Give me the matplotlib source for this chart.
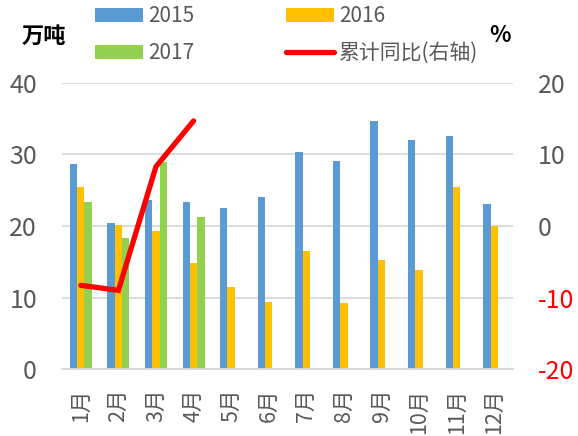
import matplotlib
matplotlib.use("Agg")
import matplotlib.pyplot as plt
import numpy as np

plt.rcParams['font.family'] = ['Noto Sans CJK SC', 'DejaVu Sans']
plt.rcParams['axes.unicode_minus'] = False

months = ["1月", "2月", "3月", "4月", "5月", "6月",
          "7月", "8月", "9月", "10月", "11月", "12月"]
y2015 = [28.7, 20.4, 23.7, 23.4, 22.5, 24.0, 30.3, 29.1, 34.7, 32.0, 32.6, 23.1]
y2016 = [25.4, 20.2, 19.3, 14.8, 11.4, 9.4, 16.5, 9.3, 15.3, 13.8, 25.5, 20.0]
y2017 = [23.4, 18.3, 28.9, 21.2]
yoy = [-8.3, -9.0, 8.3, 14.7]  # 累计同比, right axis

blue, orange, green, red = "#5B9BD5", "#FFC000", "#92D050", "#FF0000"
gray = "#595959"
grid = "#D9D9D9"

fig = plt.figure(figsize=(5.78, 4.36), dpi=100)
ax = fig.add_axes([62/578, 1 - 369/436, (513 - 62)/578, (369 - 83)/436])
ax2 = ax.twinx()

x = np.arange(len(months))
w = 0.195
b1 = ax.bar(x - w, y2015, w, color=blue, label="2015", zorder=2)
b2 = ax.bar(x, y2016, w, color=orange, label="2016", zorder=2)
b3 = ax.bar(x[:len(y2017)] + w, y2017, w, color=green, label="2017", zorder=2)
ln, = ax2.plot(x[:len(yoy)], yoy, color=red, lw=3.8, solid_capstyle="round",
               solid_joinstyle="miter", label="累计同比(右轴)")

ax.set_xlim(-0.5, len(months) - 0.5)
ax.set_ylim(0, 40)
ax.set_yticks(range(0, 41, 10))
ax2.set_ylim(-20, 20)
ax2.set_yticks(range(-20, 21, 10))

ax.yaxis.grid(True, color=grid, lw=1.3, zorder=0)
ax.set_axisbelow(True)
for a in (ax, ax2):
    for s in a.spines.values():
        s.set_visible(False)
ax.spines["bottom"].set_visible(True)
ax.spines["bottom"].set_color(grid)
ax.spines["bottom"].set_linewidth(1.3)

ax.set_xticks(x)
ax.set_xticklabels(months, rotation=90, fontsize=15.5, color=gray)
ax.tick_params(axis="x", length=0, pad=14)
ax.tick_params(axis="y", length=0, pad=18, labelsize=18, labelcolor=gray)
ax2.tick_params(axis="y", length=0, pad=18, labelsize=18)
for t, v in zip(ax2.get_yticklabels(), range(-20, 21, 10)):
    t.set_color(red if v < 0 else gray)

fig.text(22/578, 1 - 36/436, "万吨", fontsize=16, fontweight="bold",
         color="black", va="center", ha="left")
fig.text(489/578, 1 - 36/436, "%", fontsize=16, fontweight="bold",
         color="black", va="center", ha="left")

leg = fig.legend([b1, b3, b2, ln], ["2015", "2017", "2016", "累计同比(右轴)"],
                 ncol=2, loc="upper left", bbox_to_anchor=(95/578, 1 - 5/436),
                 frameon=False, fontsize=15, handlelength=2.3, handleheight=0.65,
                 handletextpad=0.25, columnspacing=4.4, labelspacing=0.72,
                 borderpad=0, borderaxespad=0)
for t in leg.get_texts():
    t.set_color(gray)

fig.savefig("out.png", dpi=100)
